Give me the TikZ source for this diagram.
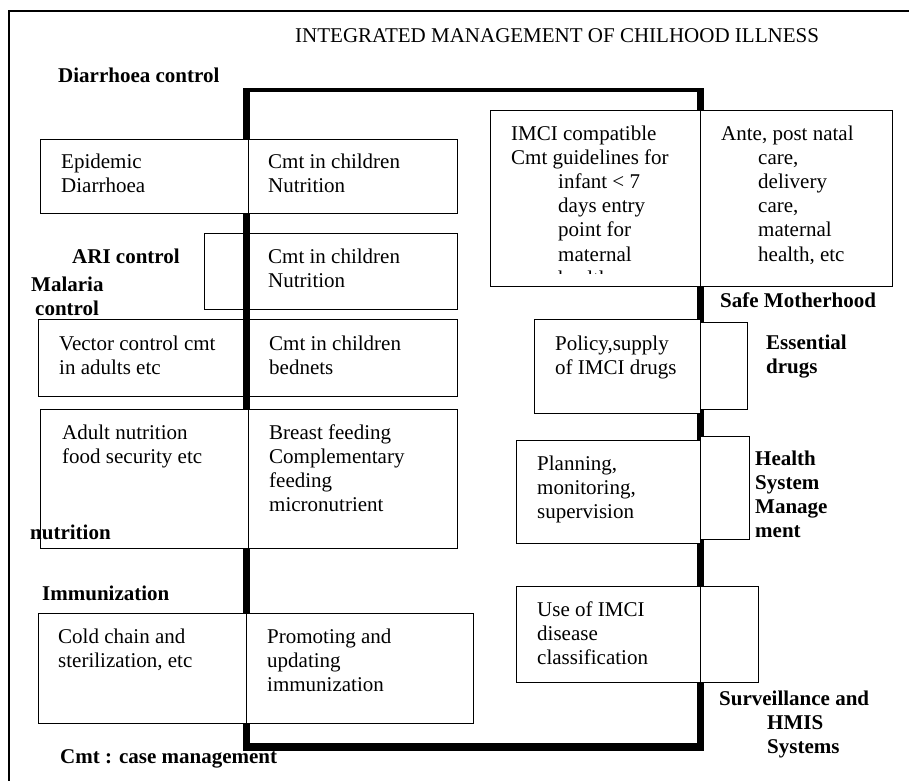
\documentclass[tikz,border=0pt]{standalone}
\usepackage{fontspec}
\setmainfont{Liberation Serif}
% rows of a text block; the block's baseline is that of its first row
\newcommand{\txtrows}[1]{\begin{tabular}[t]{@{}l@{}}#1\end{tabular}}
\tikzset{
  cell/.style={draw, fill=white, line width=1.3pt, inner sep=0pt, anchor=north west},
  txt/.style={inner sep=0pt, anchor=base west, font=\fontsize{21}{24.2}\selectfont},
  lbl/.style={inner sep=0pt, anchor=base west, font=\fontsize{21}{24.2}\selectfont\bfseries},
  spine/.style={fill=black}
}
\begin{document}
\begin{tikzpicture}[x=1pt,y=-1pt]
\useasboundingbox (0,0) rectangle (909,780);
\clip (0,0) rectangle (909,780);

% page frame
\draw[line width=2pt] (9,800) -- (9,11) -- (920,11);

\node[txt] (title) at (295,42) {INTEGRATED MANAGEMENT OF CHILHOOD ILLNESS};

% boxes that the spine runs across
\node[cell, minimum width=44pt, minimum height=76pt] (ariL) at (204,233) {};
\node[cell, minimum width=209pt, minimum height=76pt] (ariR) at (248,233) {};
\node[cell, minimum width=210pt, minimum height=77pt] (vecL) at (38,319) {};
\node[cell, minimum width=209pt, minimum height=77pt] (vecR) at (248,319) {};

% the heavy spine frame
\fill[spine] (243,88) rectangle (704,92);
\fill[spine] (243,88) rectangle (250,751);
\fill[spine] (697,88) rectangle (704,751);
\fill[spine] (243,743) rectangle (704,751);

% left column boxes
\node[cell, minimum width=208pt, minimum height=74pt] (epiL) at (40,139) {};
\node[cell, minimum width=209pt, minimum height=74pt] (epiR) at (248,139) {};
\node[cell, minimum width=208pt, minimum height=139pt] (adL) at (40,409) {};
\node[cell, minimum width=209pt, minimum height=139pt] (adR) at (248,409) {};
\node[cell, minimum width=208pt, minimum height=110pt] (colL) at (38,613) {};
\node[cell, minimum width=227pt, minimum height=110pt] (colR) at (246,613) {};

% right column boxes
\node[cell, minimum width=210pt, minimum height=176pt] (imL) at (490,110) {};
\node[cell, minimum width=192pt, minimum height=176pt] (imR) at (700,110) {};
\node[cell, minimum width=166pt, minimum height=94pt] (polL) at (534,319) {};
\node[cell, minimum width=47pt, minimum height=87pt] (polR) at (700,322) {};
\node[cell, minimum width=184pt, minimum height=103pt] (plaL) at (516,440) {};
\node[cell, minimum width=49pt, minimum height=103pt] (plaR) at (700,436) {};
\node[cell, minimum width=184pt, minimum height=96pt] (useL) at (516,586) {};
\node[cell, minimum width=58pt, minimum height=96pt] (useR) at (700,586) {};

% programme labels
\node[lbl] (diarr) at (58,82) {Diarrhoea control};
\node[lbl] (ari) at (72,263) {ARI control};
\node[lbl] (malaria) at (31,291) {\txtrows{Malaria\\\hspace{4pt}control}};
\node[lbl] (nutr) at (30,539) {nutrition};
\node[lbl] (immun) at (42,600) {Immunization};
\node[lbl] (cmtkey) at (60,763) {Cmt : case management};
\node[lbl] (safe) at (720,307) {Safe Motherhood};
\node[lbl] (essential) at (766,349) {\txtrows{Essential\\drugs}};
\node[lbl] (hsm) at (755,465) {\txtrows{Health\\System\\Manage\\ment}};
\node[lbl] (surv) at (719,705) {\txtrows{Surveillance and\\\hspace{48pt}HMIS\\\hspace{48pt}Systems}};

% box texts
\node[txt] (epiLt) at (61,168) {\txtrows{Epidemic\\Diarrhoea}};
\node[txt] (epiRt) at (268,168) {\txtrows{Cmt in children\\Nutrition}};
\node[txt] (ariRt) at (268,263) {\txtrows{Cmt in children\\Nutrition}};
\node[txt] (vecLt) at (59,350) {\txtrows{Vector control cmt\\in adults etc}};
\node[txt] (vecRt) at (269,350) {\txtrows{Cmt in children\\bednets}};
\node[txt] (adLt) at (62,439) {\txtrows{Adult nutrition\\food security etc}};
\node[txt] (adRt) at (269,439) {\txtrows{Breast feeding\\Complementary\\feeding\\micronutrient}};
\node[txt] (colLt) at (58,643) {\txtrows{Cold chain and\\sterilization, etc}};
\node[txt] (colRt) at (267,643) {\txtrows{Promoting and\\updating\\immunization}};

% the last line of this box is cut off by the box frame
\begin{scope}
  \clip (491,111) rectangle (699,273.5);
  \node[txt] (imLt) at (511,140) {\txtrows{IMCI compatible\\Cmt guidelines for\\\hspace{47pt}infant < 7\\\hspace{47pt}days entry\\\hspace{47pt}point for\\\hspace{47pt}maternal\\\hspace{47pt}health}};
\end{scope}
\node[txt] (imRt) at (721,140) {\txtrows{Ante, post natal\\\hspace{37pt}care,\\\hspace{37pt}delivery\\\hspace{37pt}care,\\\hspace{37pt}maternal\\\hspace{37pt}health, etc}};
\node[txt] (polLt) at (555,350) {\txtrows{Policy,supply\\of IMCI drugs}};
\node[txt] (plaLt) at (537,470) {\txtrows{Planning,\\monitoring,\\supervision}};
\node[txt] (useLt) at (537,616) {\txtrows{Use of IMCI\\disease\\classification}};
\end{tikzpicture}
\end{document}
